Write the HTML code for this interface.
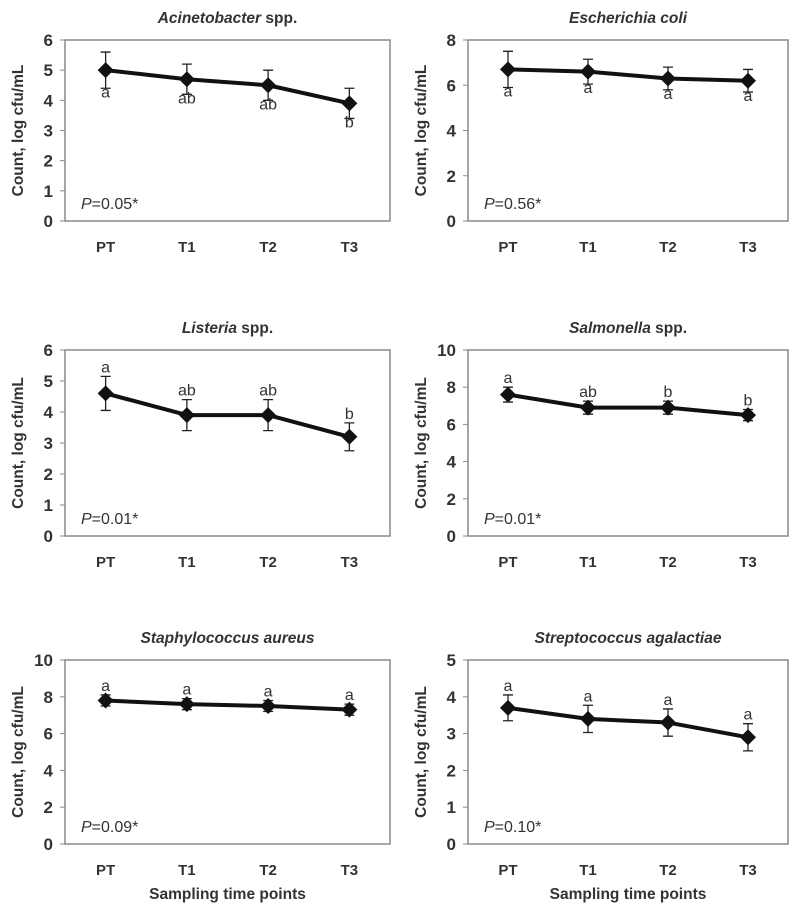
<!DOCTYPE html>
<html><head><meta charset="utf-8">
<style>
body{margin:0;background:#fff;}
svg{display:block;font-family:"Liberation Sans",sans-serif;}
</style></head>
<body>
<svg id="fig" width="800" height="913" viewBox="0 0 800 913"></svg>
<script>
const categories = ["PT","T1","T2","T3"];
const titlesItalic = ["Acinetobacter","Escherichia coli","Listeria","Salmonella","Staphylococcus aureus","Streptococcus agalactiae"];
const titlesSuffix = [" spp.",""," spp."," spp.","",""];
const yMaxes = [6,8,6,10,10,5];
const yStepList = [1,2,1,2,2,1];
const meanAcin = [5.0,4.7,4.5,3.9];
const errAcin = [0.6,0.5,0.5,0.5];
const meanEcoli = [6.7,6.6,6.3,6.2];
const errEcoli = [0.8,0.55,0.5,0.5];
const meanList = [4.6,3.9,3.9,3.2];
const errList = [0.55,0.5,0.5,0.45];
const meanSalm = [7.6,6.9,6.9,6.5];
const errSalm = [0.4,0.35,0.35,0.3];
const meanStaph = [7.8,7.6,7.5,7.3];
const errStaph = [0.3,0.3,0.3,0.3];
const meanStrep = [3.7,3.4,3.3,2.9];
const errStrep = [0.35,0.37,0.37,0.37];
const lettersAcin = ["a","ab","ab","b"];
const lettersEcoli = ["a","a","a","a"];
const lettersList = ["a","ab","ab","b"];
const lettersSalm = ["a","ab","b","b"];
const lettersStaph = ["a","a","a","a"];
const lettersStrep = ["a","a","a","a"];
const pValues = ["0.05","0.56","0.01","0.01","0.09","0.10"];
const letterBelow = [true,true,false,false,false,false];

const means=[meanAcin,meanEcoli,meanList,meanSalm,meanStaph,meanStrep];
const errs=[errAcin,errEcoli,errList,errSalm,errStaph,errStrep];
const letters=[lettersAcin,lettersEcoli,lettersList,lettersSalm,lettersStaph,lettersStrep];
const boxes=[[65,390,40,221],[468,788,40,221],[65,390,350,536],[468,788,350,536],[65,390,660,844],[468,788,660,844]];
const svg=document.getElementById('fig');
const NS="http://www.w3.org/2000/svg";
function mk(tag,attrs,parent){const e=document.createElementNS(NS,tag);for(const k in attrs)e.setAttribute(k,attrs[k]);(parent||svg).appendChild(e);return e;}

for(let p=0;p<6;p++){
  const [L,R,T,B]=boxes[p];
  const g=mk('g',{});
  
  
  const x=i=>L+(i+0.5)*(R-L)/categories.length;
  const y=v=>B-v/yMaxes[p]*(B-T);
  const cx=(L+R)/2;
  const t=mk('text',{x:cx,y:T-17,'text-anchor':'middle','font-size':15.5,'font-weight':'bold',fill:'#333'},g);
  
  
  const ti=mk('tspan',{'font-style':'italic'},t);ti.textContent=titlesItalic[p];
  const ts=mk('tspan',{},t);ts.textContent=titlesSuffix[p];
  const box=mk('rect',{x:L,y:T,width:R-L,height:B-T,fill:'none',stroke:'#8a8a8a','stroke-width':1.5},g);
  
  
  for(let v=0;v<=yMaxes[p];v+=yStepList[p]){
    mk('line',{x1:L-5,x2:L,y1:y(v),y2:y(v),stroke:'#8a8a8a'},g);
    const tl=mk('text',{x:L-12,y:y(v)+6,'text-anchor':'end','font-size':17,'font-weight':'bold',fill:'#333'},g);
    
    
    tl.textContent=v;
  }
  categories.forEach((c,i)=>{
    const xl=mk('text',{x:x(i),y:B+31,'text-anchor':'middle','font-size':15,'font-weight':'bold',fill:'#333'},g);
    
    
    xl.textContent=c;
  });
  const yt=mk('text',{x:0,y:0,transform:`translate(${L-42},${(T+B)/2}) rotate(-90)`,'text-anchor':'middle','font-size':15.5,'font-weight':'bold',fill:'#333'},g);
  
  
  yt.textContent='Count, log cfu/mL';
  if(p>=4){
    const xt=mk('text',{x:cx,y:B+55,'text-anchor':'middle','font-size':15.5,'font-weight':'bold',fill:'#333'},g);
    
    
    xt.textContent='Sampling time points';
  }
  const m=means[p],e=errs[p];
  m.forEach((v,i)=>{
    const eb=mk('path',{d:`M${x(i)},${y(v-e[i])}V${y(v+e[i])}M${x(i)-5},${y(v-e[i])}h10M${x(i)-5},${y(v+e[i])}h10`,stroke:'#222','stroke-width':1.3,fill:'none'},g);
    
    
  });
  const ln=mk('polyline',{points:m.map((v,i)=>x(i)+','+y(v)).join(' '),fill:'none',stroke:'#111','stroke-width':4,'stroke-linejoin':'round'},g);
  
  
  m.forEach((v,i)=>{
    const px=x(i),py=y(v);
    const d=mk('path',{d:`M${px},${py-8}L${px+8},${py}L${px},${py+8}L${px-8},${py}Z`,fill:'#111'},g);
    
    
    const ly=letterBelow[p]?y(v-e[i])+9:y(v+e[i])-4;
    const lt=mk('text',{x:px,y:ly,'text-anchor':'middle','font-size':16,fill:'#333'},g);
    
    
    lt.textContent=letters[p][i];
  });
  const pt=mk('text',{x:L+16,y:B-12,'font-size':16,fill:'#333'},g);
  
  
  const pi=mk('tspan',{'font-style':'italic'},pt);pi.textContent='P';
  const pv=mk('tspan',{},pt);pv.textContent='='+pValues[p]+'*';
}
</script>
</body></html>
